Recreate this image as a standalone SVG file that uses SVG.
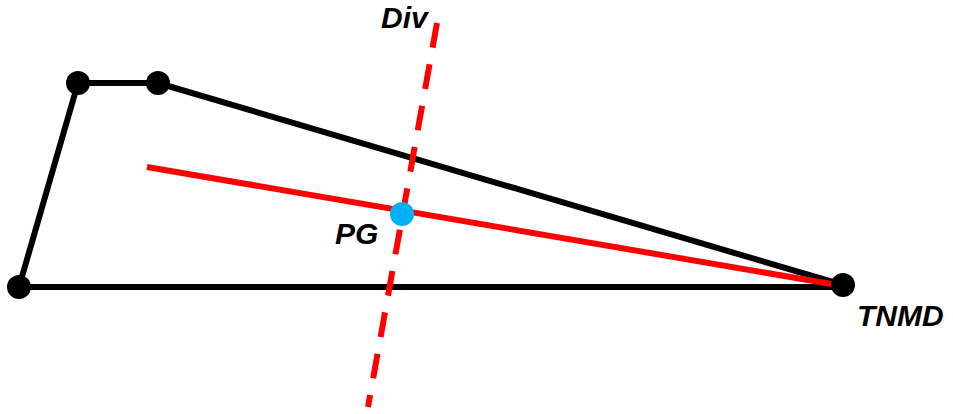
<svg xmlns="http://www.w3.org/2000/svg" width="953" height="414" viewBox="0 0 953 414">
<style>
.edge{stroke:#000;stroke-width:6;fill:none;stroke-linecap:round}
.red{stroke:#FF0000;stroke-width:6;fill:none}
.dash{stroke:#FF0000;stroke-width:6;fill:none;stroke-dasharray:25 17}
.pt{fill:#000}
.pg{fill:#00B0F0}
.lbl{font-family:"Liberation Sans",Arial,sans-serif;font-weight:bold;font-style:italic;font-size:30px;fill:#000}
</style>
<rect width="953" height="414" fill="#fff"/>
<g id="connectors">
<line class="edge" x1="19" y1="287" x2="78" y2="83"/>
<line class="edge" x1="78" y1="83" x2="158" y2="83"/>
<line class="edge" x1="158" y1="83" x2="843" y2="285"/>
<line class="edge" x1="19" y1="287" x2="843" y2="287"/>
<line class="red" x1="147" y1="167" x2="843" y2="286"/>
<line class="dash" x1="437" y1="23" x2="368" y2="407"/>
</g>
<g id="nodeA"><circle class="pt" cx="19" cy="287" r="12"/></g>
<g id="nodeB"><circle class="pt" cx="78" cy="83" r="12"/></g>
<g id="nodeC"><circle class="pt" cx="158" cy="83" r="12"/></g>
<g id="TNMD"><circle class="pt" cx="843" cy="285" r="12"/><text class="lbl" x="857" y="326" font-size="31">TNMD</text></g>
<g id="PG"><circle class="pg" cx="402" cy="214" r="12"/><text class="lbl" x="335" y="244">PG</text></g>
<g id="Div"><text class="lbl" x="381" y="28">Div</text></g>
</svg>
